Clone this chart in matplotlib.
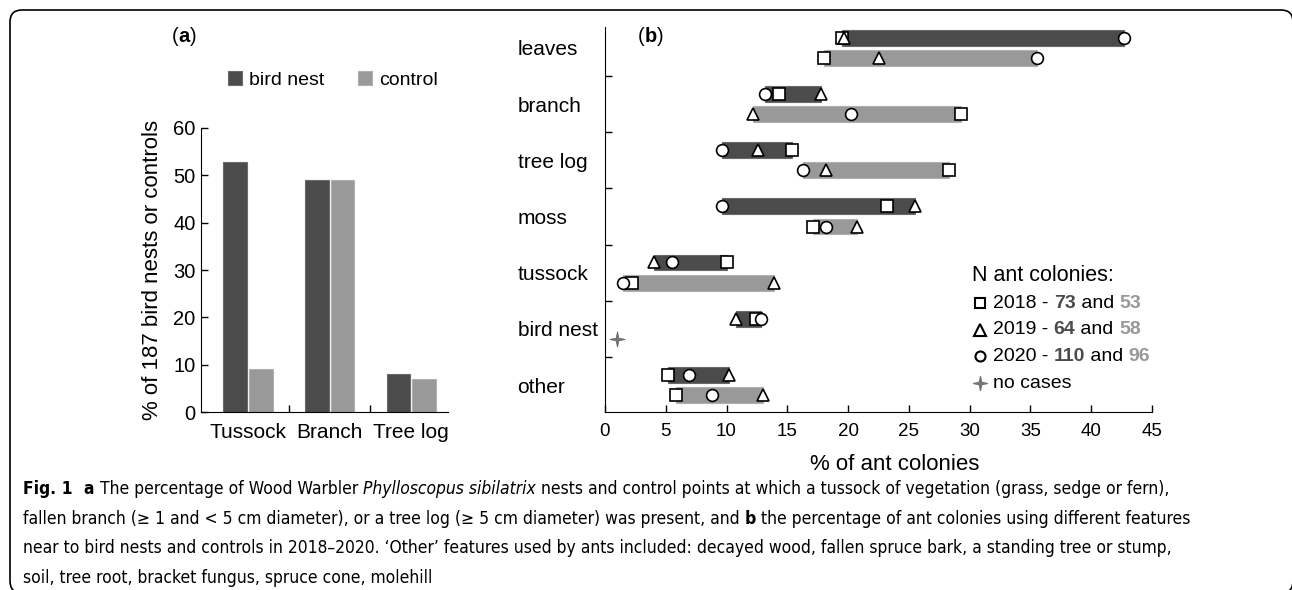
import numpy as np
import matplotlib
matplotlib.use('Agg')
import matplotlib.pyplot as plt
from matplotlib.patches import FancyBboxPatch
from matplotlib.path import Path
from matplotlib.transforms import IdentityTransform
from matplotlib.font_manager import FontProperties, fontManager

plt.rcParams['font.family'] = ['Liberation Sans', 'DejaVu Sans']

W, H = 1292, 590
DARK = '#4b4b4b'
LIGHT = '#999999'

# panel (a): % of 187 bird nests or controls
feat_a = ['Tussock', 'Branch', 'Tree log']
nest_a = [52.8, 49.0, 8.0]
ctrl_a = [9.1, 49.0, 6.9]

# panel (b): % of ant colonies, top to bottom
feat_b = ['leaves', 'branch', 'tree log', 'moss', 'tussock', 'bird nest', 'other']
nest_2018 = [19.5, 14.3, 15.4, 23.2, 10.0, 12.4, 5.2]
nest_2019 = [19.7, 17.8, 12.6, 25.5, 4.0, 10.8, 10.2]
nest_2020 = [42.7, 13.2, 9.6, 9.6, 5.5, 12.8, 6.9]
ctrl_2018 = [18.0, 29.3, 28.3, 17.1, 2.2, np.nan, 5.8]
ctrl_2019 = [22.5, 12.2, 18.2, 20.7, 13.9, np.nan, 13.0]
ctrl_2020 = [35.5, 20.2, 16.3, 18.2, 1.5, np.nan, 8.8]
no_case_x = 1.0   # bird nest, control

# thin four-point star used for "no cases"
sv = [(0, 1), (0.17, 0.17), (1, 0), (0.17, -0.17), (0, -1), (-0.17, -0.17), (-1, 0), (-0.17, 0.17), (0, 1)]
STAR = Path(sv, [Path.MOVETO] + [Path.LINETO] * 7 + [Path.CLOSEPOLY])

fig = plt.figure(figsize=(W / 100, H / 100), dpi=100)

# rounded frame (right and bottom edges run off the picture)
fig.patches.append(FancyBboxPatch((10, -3), 1283, H - 10 + 3,
                                  boxstyle='round,pad=0,rounding_size=12',
                                  transform=IdentityTransform(), fill=False,
                                  ec='black', lw=1.2))

# ---------------- panel (a)
axa = fig.add_axes([201 / W, 1 - 412 / H, 247 / W, 284 / H])
xa = np.arange(len(feat_a))
bw = 0.29
axa.bar(xa - bw / 2 - 0.012, nest_a, bw, color=DARK, ec='#6a6a6a', lw=0.8, label='bird nest')
axa.bar(xa + bw / 2 + 0.012, ctrl_a, bw, color=LIGHT, ec='#b0b0b0', lw=0.8, label='control')
axa.set_xlim(-0.575, 2.45)
axa.set_ylim(0, 60)
axa.set_yticks(range(0, 61, 10))
axa.set_xticks(xa)
axa.set_xticklabels(feat_a, fontsize=15)
axa.set_xticks([0.5, 1.5], minor=True)
axa.tick_params(axis='x', which='major', length=0, pad=8)
axa.tick_params(axis='x', which='minor', direction='in', length=5, width=1)
axa.tick_params(axis='y', direction='in', length=5, width=1, labelsize=14.5, pad=4)
for s in ['top', 'right']:
    axa.spines[s].set_visible(False)
axa.set_ylabel('% of 187 bird nests or controls', fontsize=16, labelpad=7)
axa.legend(loc='center left', bbox_to_anchor=(0.109, 1.169), ncol=2, frameon=False,
           handlelength=0.72, handleheight=0.72, handletextpad=0.36, columnspacing=1.75,
           borderpad=0, borderaxespad=0, fontsize=14)

# ---------------- panel (b)
axb = fig.add_axes([605 / W, 1 - 412 / H, 547 / W, 385 / H])
yb = np.arange(len(feat_b))[::-1].astype(float)
off, bh = 0.18, 0.28
sets = [(nest_2018, nest_2019, nest_2020, yb + off, DARK, '#6a6a6a'),
        (ctrl_2018, ctrl_2019, ctrl_2020, yb - off, LIGHT, '#b0b0b0')]
for a18, a19, a20, yy, col, ec in sets:
    vals = np.array([a18, a19, a20], dtype=float)
    lo = np.min(np.where(np.isnan(vals), np.inf, vals), axis=0)
    hi = np.max(np.where(np.isnan(vals), -np.inf, vals), axis=0)
    ok = np.isfinite(lo)
    axb.barh(yy[ok], hi[ok] - lo[ok], bh, left=lo[ok], color=col, ec=ec, lw=0.8, zorder=2)
    mk = dict(mfc='white', mec='black', mew=1.2, ls='none', zorder=3, clip_on=False)
    axb.plot(a18, yy, marker='s', ms=8, **mk)
    axb.plot(a19, yy, marker='^', ms=9, **mk)
    axb.plot(a20, yy, marker='o', ms=8.5, **mk)
axb.plot([no_case_x], [yb[feat_b.index('bird nest')] - off], marker=STAR, ms=11,
         color='#777777', mec='#666666', mew=0.6, ls='none', zorder=3)

axb.set_xlim(0, 45)
axb.set_ylim(-0.48, 6.37)
axb.set_xticks(range(0, 46, 5))
axb.set_yticks(yb)
axb.set_yticklabels(feat_b, fontsize=15)
for lab in axb.get_yticklabels():
    lab.set_ha('left')
axb.set_yticks(np.arange(0.5, 6, 1), minor=True)
axb.tick_params(axis='y', which='major', length=0, pad=63)
axb.tick_params(axis='y', which='minor', direction='in', length=5, width=1)
axb.tick_params(axis='x', direction='in', length=5, width=1, labelsize=13.5, pad=8)
for s in ['top', 'right']:
    axb.spines[s].set_visible(False)
axb.set_xlabel('% of ant colonies', fontsize=16)
axb.xaxis.set_label_coords(0.53, -0.108)

# ---------------- text with mixed styles
r = fig.canvas.get_renderer()


def width(s, fp):
    return r.get_text_width_height_descent(s, fp, ismath=False)[0]


def runs(x, y, parts, fp_of, draw=True):
    """Pieces (text, style, colour) one after another from pixel x, baseline y (from top)."""
    for txt, st, col in parts:
        fp = fp_of(st)
        core = txt.rstrip(' ')
        if draw:
            fig.text(x / W, 1 - y / H, core, fontproperties=fp, color=col, va='baseline')
        x += width(core, fp) + (width('x x', fp) - width('xx', fp)) * (len(txt) - len(core))
    return x


def sans(size):
    return lambda st: FontProperties(family='Liberation Sans', size=size,
                                     weight='bold' if st == 'b' else 'normal')


K = 'black'
runs(172, 42, [('(', 'n', K), ('a', 'b', K), (')', 'n', K)], sans(14.5))
runs(638, 42, [('(', 'n', K), ('b', 'b', K), (')', 'n', K)], sans(14.5))

# panel (b) legend
fig.text(972 / W, 1 - 281 / H, 'N ant colonies:', fontsize=15.5, va='baseline')
leg_rows = [('s', 8, '2018 - ', '73', '53'), ('^', 9, '2019 - ', '64', '58'),
            ('o', 8, '2020 - ', '110', '96')]
for i, (m, ms, yr, n1, n2) in enumerate(leg_rows):
    yy = 303 + i * 26.5
    fig.lines.append(plt.Line2D([980 / W], [1 - yy / H], marker=m, ms=ms * 0.9, mfc='white',
                                mec='black', mew=1.5, transform=fig.transFigure))
    runs(993, yy + 5, [(yr, 'n', K), (n1, 'b', DARK), (' and ', 'n', K), (n2, 'b', LIGHT)],
         sans(14))
fig.lines.append(plt.Line2D([980 / W], [1 - 383 / H], marker=STAR, ms=10,
                            color='#777777', transform=fig.transFigure))
fig.text(993 / W, 1 - 388 / H, 'no cases', fontsize=14, va='baseline')

# caption: prefer a condensed face
cond = {}
for f in fontManager.ttflist:
    fn = f.fname.replace('\\', '/').split('/')[-1]
    key = {'DejaVuSansCondensed.ttf': 'n', 'DejaVuSansCondensed-Bold.ttf': 'b',
           'DejaVuSansCondensed-Oblique.ttf': 'i'}.get(fn)
    if key:
        cond[key] = f.fname


def cap_fp(size):
    def make(st):
        if len(cond) == 3:
            return FontProperties(fname=cond[st], size=size)
        return FontProperties(family='Liberation Sans', size=size,
                              weight='bold' if st == 'b' else 'normal',
                              style='italic' if st == 'i' else 'normal')
    return make


cap = [
    [('Fig. 1  ', 'b', K), ('a ', 'b', K), ('The percentage of Wood Warbler ', 'n', K),
     ('Phylloscopus sibilatrix ', 'i', K),
     ('nests and control points at which a tussock of vegetation (grass, sedge or fern),', 'n', K)],
    [('fallen branch (\u2265 1 and < 5 cm diameter), or a tree log (\u2265 5 cm diameter) was present, and ', 'n', K),
     ('b ', 'b', K), ('the percentage of ant colonies using different features', 'n', K)],
    [('near to bird nests and controls in 2018\u20132020. \u2018Other\u2019 features used by ants included: '
      'decayed wood, fallen spruce bark, a standing tree or stump,', 'n', K)],
    [('soil, tree root, bracket fungus, spruce cone, molehill', 'n', K)],
]
# printed line lengths in the reference: 1055, 1245, 1219, 383 px
ref_len = [1055, 1245, 1219, 383]
w10 = [runs(0, 0, ln, cap_fp(10), draw=False) for ln in cap]
cs = 10 * np.mean([a / b for a, b in zip(ref_len, w10)])
cs = min(cs, 10 * 1245 / max(w10))
for k, line in enumerate(cap):
    runs(23, 494 + k * 29.6, line, cap_fp(cs))

fig.savefig('out.png', dpi=100)
